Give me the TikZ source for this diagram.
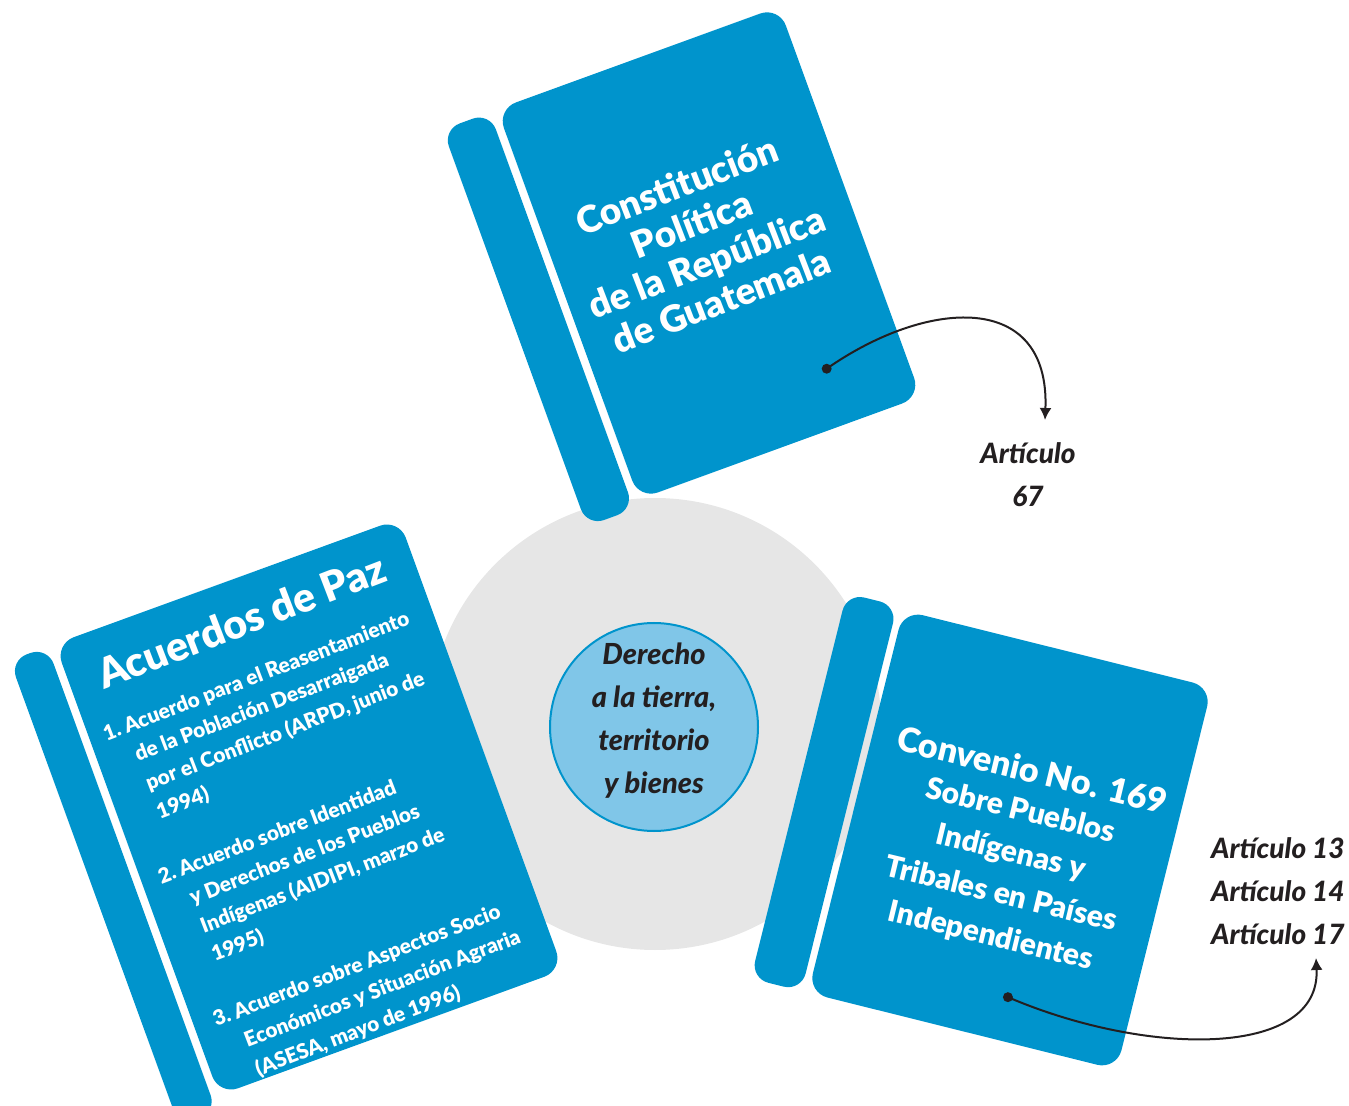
\documentclass[tikz,border=0pt]{standalone}
\usepackage{fontspec}
\setmainfont{Lato}[BoldFont={Lato Black}, BoldItalicFont={Lato Black Italic}]
\usetikzlibrary{arrows.meta}

\definecolor{bookblue}{RGB}{0,148,204}
\definecolor{hubblue}{RGB}{128,198,232}
\definecolor{discgray}{RGB}{230,230,230}
\definecolor{inkblack}{RGB}{35,31,32}

\tikzset{
    bookpart/.style={fill=bookblue, rounded corners=10pt},
    spinepart/.style={fill=bookblue, rounded corners=9pt},
    covertext/.style={text=white, align=center, inner sep=0pt},
    inktext/.style={text=inkblack, inner sep=0pt},
    dotmark/.style={circle, fill=inkblack, inner sep=0pt, minimum size=5pt},
    pointer/.style={-{Latex[length=6pt,width=6pt]}, line width=1pt, draw=inkblack},
}

\begin{document}
\begin{tikzpicture}[x=0.5pt, y=-0.5pt]
    \useasboundingbox (0,0) rectangle (1349,1106);

    % disc in the middle
    \fill[discgray] (655,724) circle (113pt);
    \filldraw[fill=hubblue, draw=bookblue, line width=1pt] (654,727) circle (52pt);
    \node[inktext, align=center, font={\fontsize{14.5}{21.5}\selectfont\bfseries\itshape}] (hub) at (654,721) {Derecho\\a la tierra,\\territorio\\y bienes};

    % constitucion
    \begin{scope}[shift={(709,253)}, rotate=20]
        \fill[spinepart] (-208,-207) rectangle (-158,215);
        \fill[bookpart] (-150,-207.5) rectangle (150,207.5);
        \node[covertext, rotate=21, font={\fontsize{18.5}{20.5}\selectfont\bfseries}] (consttitle) at (-6,-13) {Constitución\\Política\\de la República\\de Guatemala};
        \node[dotmark] (constdot) at (71,149) {};
    \end{scope}

    % acuerdos de paz
    \begin{scope}[shift={(309,807)}, rotate=20]
        \fill[spinepart] (-231,-240) rectangle (-191,255);
        \fill[bookpart] (-183,-240) rectangle (183,240);
        \node[covertext, rotate=21, font={\fontsize{20.5}{24}\selectfont\bfseries}] (peacetitle) at (0,-198) {Acuerdos de Paz};
        \node[covertext, rotate=21, anchor=base west, align=left, font={\fontsize{10.4}{15.3}\selectfont\bfseries}] (peacelist) at (-168,-131) {%
            \begin{tabular}[t]{@{}l@{\ }l@{}}
            1. & Acuerdo para el Reasentamiento\\
               & de la Población Desarraigada\\
               & por el Conflicto (ARPD, junio de\\
               & 1994)\\[15.3pt]
            2. & Acuerdo sobre Identidad\\
               & y Derechos de los Pueblos\\
               & Indígenas (AIDIPI, marzo de\\
               & 1995)\\[15.3pt]
            3. & Acuerdo sobre Aspectos Socio\\
               & Económicos y Situación Agraria\\
               & (ASESA, mayo de 1996)
            \end{tabular}};
    \end{scope}

    % convenio 169
    \begin{scope}[shift={(1010,840)}, rotate=-14]
        \fill[spinepart] (-218,-200) rectangle (-166,197);
        \fill[bookpart] (-159,-197) rectangle (159,197);
        \node[covertext, rotate=-13.5, font={\fontsize{17}{21.5}\selectfont\bfseries}] (ilotitle) at (5,-73.5) {Convenio No. 169};
        \node[covertext, rotate=-13.5, font={\fontsize{15}{21.5}\selectfont\bfseries}] (ilobody) at (4,34) {Sobre Pueblos\\Indígenas y\\Tribales en Países\\Independientes};
        \node[dotmark] (ilodot) at (36,153) {};
    \end{scope}

    % articulos
    \node[inktext, align=center, font={\fontsize{14}{21.5}\selectfont\bfseries\itshape}] (art67) at (1028,475) {Artículo\\67};
    \node[inktext, align=right, anchor=east, font={\fontsize{14}{21.5}\selectfont\bfseries\itshape}] (artilo) at (1345,891) {Artículo 13\\Artículo 14\\Artículo 17};
    \coordinate (tip67) at (1045,420);
    \coordinate (tip17) at (1316,958);

    \draw[pointer] (constdot.center) .. controls +(100,-70) and +(5,-130) .. (tip67);
    \draw[pointer] (ilodot.center) .. controls +(140,60) and +(5,100) .. (tip17);
\end{tikzpicture}
\end{document}
